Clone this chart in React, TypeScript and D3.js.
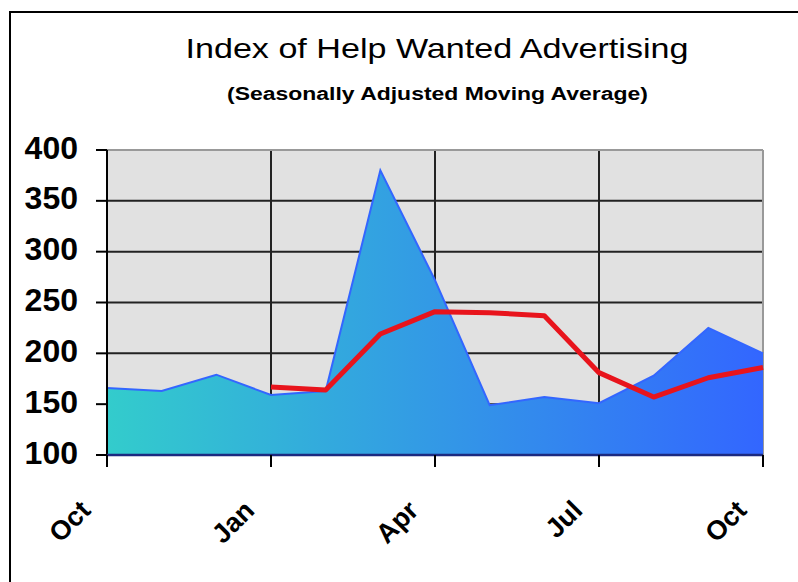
import React from "react";
import * as d3 from "d3";

const months = ["Oct", "Nov", "Dec", "Jan", "Feb", "Mar", "Apr", "May", "Jun", "Jul", "Aug", "Sep", "Oct"];
const indexValues = [166, 163, 179, 159, 163, 380, 272, 149, 157, 151, 178, 225, 200];
const movingAverage: (number | null)[] = [null, null, null, 167, 164, 219, 241, 240, 237, 181, 157, 176, 186];
const yTicks = [100, 150, 200, 250, 300, 350, 400];
const xTickIdx = [0, 3, 6, 9, 12];

const W = 798, H = 582;
const L = 107, R = 763, T = 150, B = 455;
const FONT = "'Liberation Sans', Arial, Helvetica, sans-serif";

export default function App() {
  const x = d3.scaleLinear().domain([0, months.length - 1]).range([L, R]);
  const y = d3.scaleLinear().domain([100, 400]).range([B, T]);

  const areaGen = d3.area<number>().x((_, i) => x(i)).y0(y(100)).y1((d) => y(d));
  const topLine = d3.line<number>().x((_, i) => x(i)).y((d) => y(d));
  const maLine = d3
    .line<number | null>()
    .defined((d) => d !== null)
    .x((_, i) => x(i))
    .y((d) => y(d as number));

  return (
    <svg width={W} height={H} style={{ position: "absolute", left: 0, top: 0, background: "#fff" }} fontFamily={FONT}>
      <defs>
        <linearGradient id="areaGrad" gradientUnits="userSpaceOnUse" x1={L} y1={0} x2={R} y2={0}>
          <stop offset="0%" stopColor="#33CCCC" />
          <stop offset="100%" stopColor="#3366FF" />
        </linearGradient>
      </defs>
      {/* outer frame (extends beyond image) */}
      <rect x={10} y={12} width={900} height={700} fill="none" stroke="#000" strokeWidth={2} />

      {/* titles */}
      <text x={437} y={58} textAnchor="middle" fontSize={28} fill="#000" textLength={503} lengthAdjust="spacingAndGlyphs">
        Index of Help Wanted Advertising
      </text>
      <text x={437.5} y={100} textAnchor="middle" fontSize={18} fontWeight="bold" fill="#000" textLength={421} lengthAdjust="spacingAndGlyphs">
        (Seasonally Adjusted Moving Average)
      </text>

      {/* plot background */}
      <rect x={L} y={T} width={R - L} height={B - T} fill="#E1E1E1" />

      {/* gridlines */}
      {yTicks.filter((t) => t !== 100 && t !== 400).map((t) => (
        <line key={"hg" + t} x1={L} x2={R} y1={y(t)} y2={y(t)} stroke="#222" strokeWidth={2} />
      ))}
      {xTickIdx.filter((i) => i !== 0 && i !== months.length - 1).map((i) => (
        <line key={"vg" + i} x1={x(i)} x2={x(i)} y1={T} y2={B} stroke="#222" strokeWidth={2} />
      ))}
      {/* plot border top/right */}
      <line x1={L} x2={R} y1={T} y2={T} stroke="#999" strokeWidth={2} />
      <line x1={R} x2={R} y1={T} y2={B} stroke="#999" strokeWidth={2} />

      {/* area */}
      <path d={areaGen(indexValues) || ""} fill="url(#areaGrad)" />
      <path d={topLine(indexValues) || ""} fill="none" stroke="#3366FF" strokeWidth={2} />

      {/* moving average */}
      <path d={maLine(movingAverage) || ""} fill="none" stroke="#E8141C" strokeWidth={5} strokeLinejoin="round" />

      {/* axes */}
      <line x1={L} x2={L} y1={T} y2={B} stroke="#000" strokeWidth={2} />
      <line x1={L} x2={R} y1={B} y2={B} stroke="#1C2A80" strokeWidth={2.5} />
      {yTicks.map((t) => (
        <g key={"yt" + t}>
          <line x1={L - 11} x2={L} y1={y(t)} y2={y(t)} stroke="#000" strokeWidth={2} />
          <text x={78} y={y(t) + 8.5} textAnchor="end" fontSize={32} fontWeight="bold" fill="#000">
            {t}
          </text>
        </g>
      ))}
      {xTickIdx.map((i) => (
        <g key={"xt" + i}>
          <line x1={x(i)} x2={x(i)} y1={B} y2={B + 12} stroke="#000" strokeWidth={2} />
          <text
            transform={`translate(${x(i) - 15},${512}) rotate(-45)`}
            textAnchor="end"
            fontSize={27}
            fontWeight="bold"
            fill="#000"
          >
            {months[i]}
          </text>
        </g>
      ))}
    </svg>
  );
}
